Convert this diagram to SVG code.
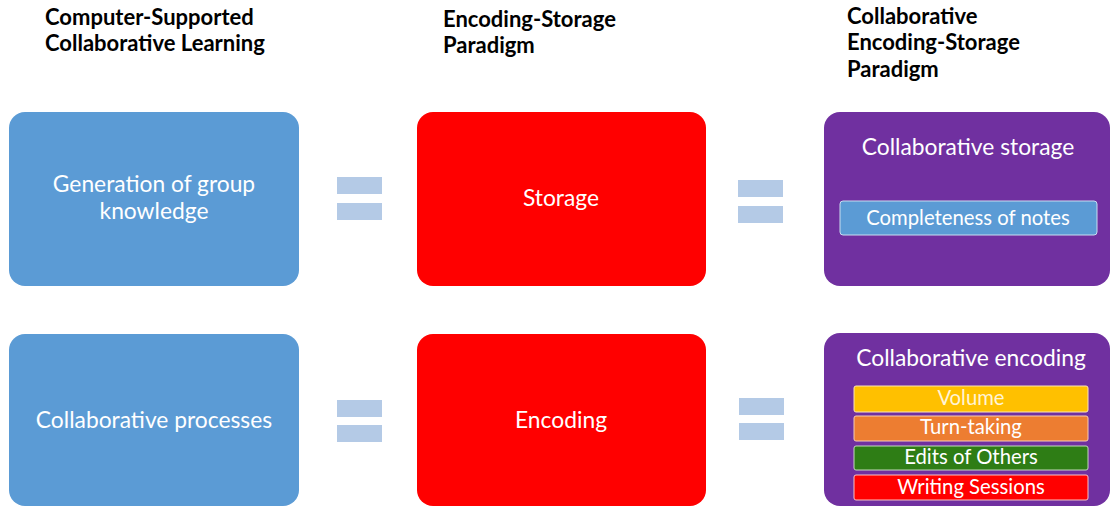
<svg xmlns="http://www.w3.org/2000/svg" width="1110" height="506" viewBox="0 0 1110 506">
<style>
.hdr{font-family:Lato,"Open Sans",sans-serif;font-weight:bold;font-size:22px;fill:#000}
.lbl{font-family:Lato,"Open Sans",sans-serif;font-size:22.8px;fill:#fff;text-anchor:middle}
.sub{font-family:Lato,"Open Sans",sans-serif;font-size:20.3px;text-anchor:middle}
.blue{fill:#5B9BD5}
.red{fill:#FF0000}
.purple{fill:#7030A0}
.eq{fill:#B4CAE6}
</style>
<rect width="1110" height="506" fill="#fff"/>
<g id="headers">
<text class="hdr"><tspan x="45" y="25">Computer-Supported</tspan><tspan x="45" y="51">Collaborative Learning</tspan></text>
<text class="hdr"><tspan x="443" y="27">Encoding-Storage</tspan><tspan x="443" y="53">Paradigm</tspan></text>
<text class="hdr"><tspan x="847" y="24">Collaborative</tspan><tspan x="847" y="50">Encoding-Storage</tspan><tspan x="847" y="77">Paradigm</tspan></text>
</g>
<g id="node-generation">
<rect class="blue" x="9" y="112" width="290" height="174" rx="16"/>
<text class="lbl"><tspan x="154" y="192">Generation of group</tspan><tspan x="154" y="219">knowledge</tspan></text>
</g>
<g id="node-storage">
<rect class="red" x="417" y="112" width="289" height="174" rx="16"/>
<text class="lbl" x="561" y="206">Storage</text>
</g>
<g id="node-collab-storage">
<rect class="purple" x="824" y="112" width="286" height="174" rx="16"/>
<text class="lbl" x="968" y="155">Collaborative storage</text>
<rect x="840" y="201" width="257" height="34" rx="3" fill="#5B9BD5" stroke="#C9DDF0" stroke-width="1"/>
<text class="sub" x="968" y="225" fill="#fff">Completeness of notes</text>
</g>
<g id="node-processes">
<rect class="blue" x="9" y="334" width="290" height="172" rx="16"/>
<text class="lbl" x="154" y="428">Collaborative processes</text>
</g>
<g id="node-encoding">
<rect class="red" x="417" y="334" width="289" height="172" rx="16"/>
<text class="lbl" x="561" y="428">Encoding</text>
</g>
<g id="node-collab-encoding">
<rect class="purple" x="824" y="333" width="286" height="173" rx="16"/>
<text class="lbl" x="971" y="366">Collaborative encoding</text>
<rect x="854" y="386" width="234" height="26" rx="2" fill="#FFC000" stroke="#FBE3B8" stroke-width="1"/>
<text class="sub" x="971" y="405" fill="#FFF4D6">Volume</text>
<rect x="854" y="416" width="234" height="25" rx="2" fill="#ED7D31" stroke="#F6CDB4" stroke-width="1"/>
<text class="sub" x="971" y="434" fill="#FFF">Turn-taking</text>
<rect x="854" y="446" width="234" height="24" rx="2" fill="#2E7D15" stroke="#C4D9BD" stroke-width="1"/>
<text class="sub" x="971" y="464" fill="#FFF">Edits of Others</text>
<rect x="854" y="475" width="234" height="25" rx="2" fill="#FF0000" stroke="#F8C4C4" stroke-width="1"/>
<text class="sub" x="971" y="494" fill="#FFF">Writing Sessions</text>
</g>
<g id="connectors">
<rect class="eq" x="337" y="177" width="45" height="17"/>
<rect class="eq" x="337" y="203" width="45" height="17"/>
<rect class="eq" x="738" y="180" width="45" height="17"/>
<rect class="eq" x="738" y="206" width="45" height="17"/>
<rect class="eq" x="337" y="400" width="45" height="17"/>
<rect class="eq" x="337" y="425" width="45" height="17"/>
<rect class="eq" x="739" y="398" width="45" height="17"/>
<rect class="eq" x="739" y="423" width="45" height="17"/>
</g>
</svg>
